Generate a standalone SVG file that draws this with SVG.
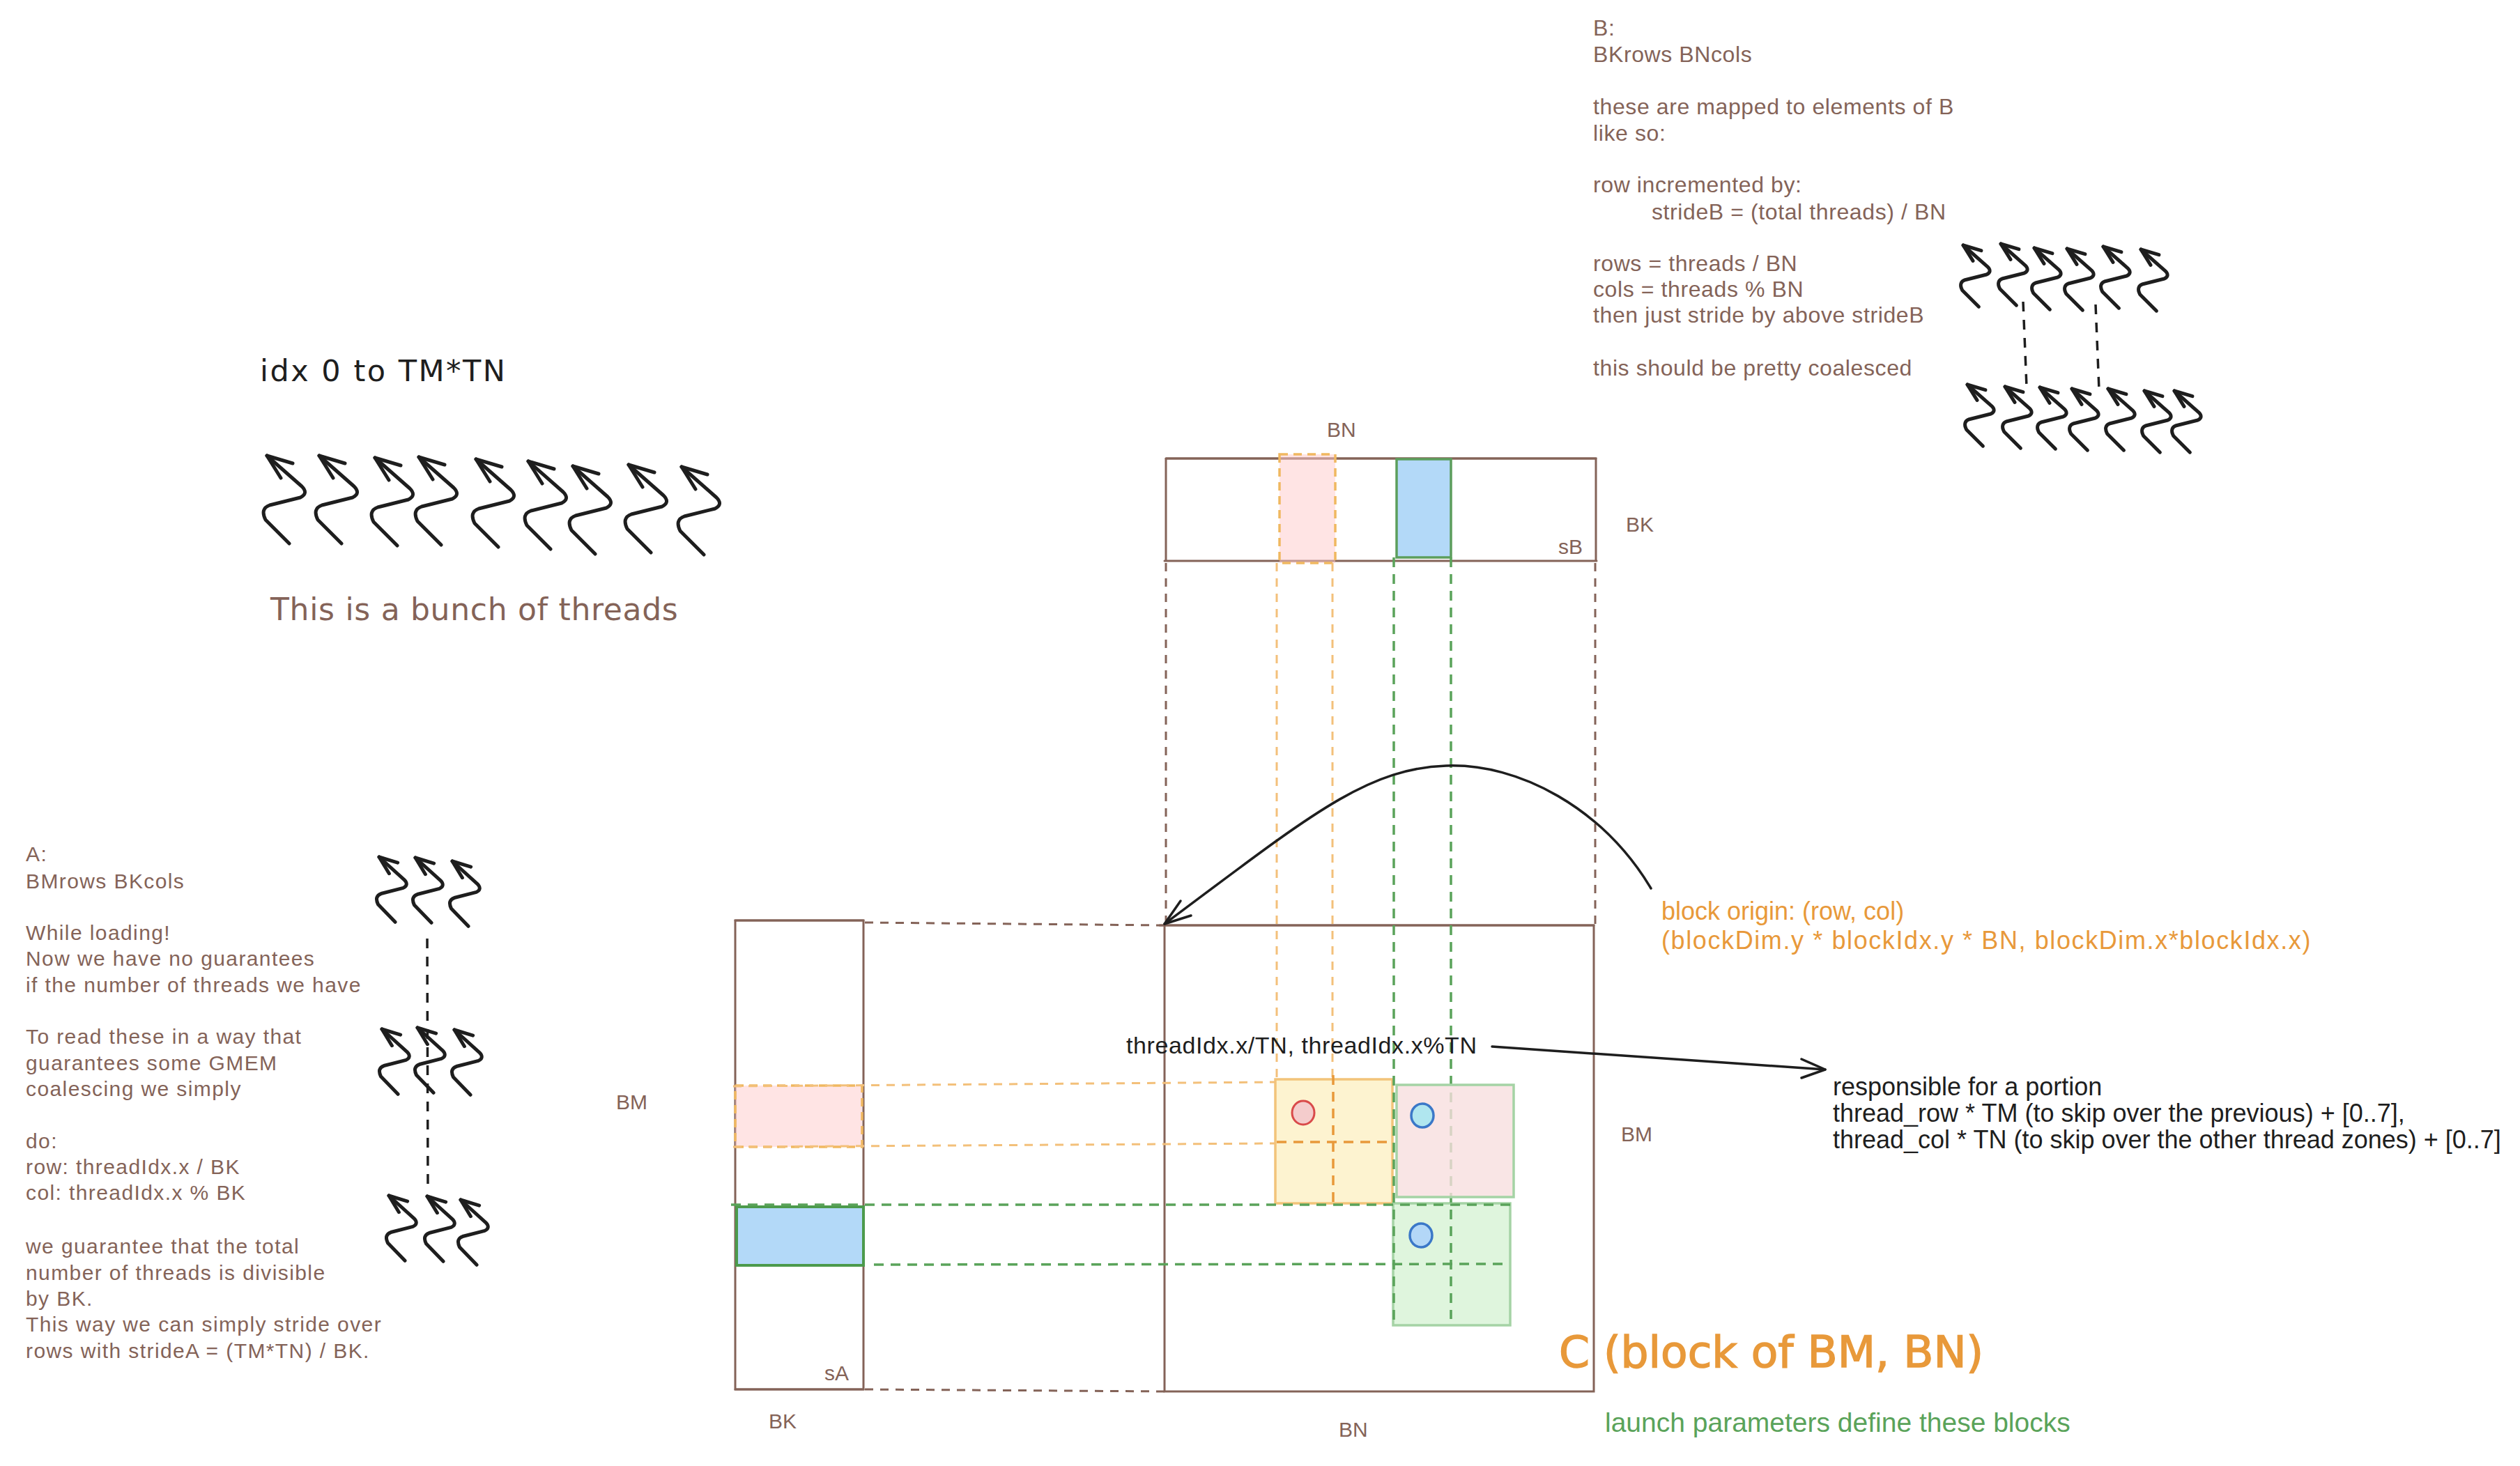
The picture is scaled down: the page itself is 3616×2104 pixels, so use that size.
<svg xmlns="http://www.w3.org/2000/svg" width="3616" height="2104" viewBox="0 0 3616 2104">
<defs>
<style>
text{font-family:"Liberation Sans",Arial,sans-serif}
.br{fill:#846358}
.bk{fill:#1e1e1e}
.or{fill:#e8993a}
.gr{fill:#5aa35a}
.b32{font-size:32px;letter-spacing:0.6px}
.lab{font-size:30px;fill:#846358}
.nt{font-family:"Noto Sans",sans-serif;font-size:30px;fill:#846358;letter-spacing:1.4px}
.dv{font-family:"DejaVu Sans",sans-serif}
.edge{fill:none;stroke:#846358;stroke-width:3;stroke-linecap:round}
.dbr{fill:none;stroke:#846358;stroke-width:3;stroke-dasharray:12 10}
.dor{fill:none;stroke:#f3c07a;stroke-width:3;stroke-dasharray:12 10}
.dor2{fill:none;stroke:#e8993a;stroke-width:3.5;stroke-dasharray:14 10}
.dgr{fill:none;stroke:#5aa35a;stroke-width:3.5;stroke-dasharray:14 10}
.dbk{fill:none;stroke:#1e1e1e;stroke-width:3.5;stroke-dasharray:14 12}
.ln{fill:none;stroke:#1e1e1e;stroke-width:3.5;stroke-linecap:round;stroke-linejoin:round}
</style>
<g id="thread">
<path d="M0 0 L50 44 Q60 54 48 60 L4 71 Q-10 76 -2 92 L32 126" fill="none" stroke="#1e1e1e" stroke-width="5" stroke-linecap="round" stroke-linejoin="round" vector-effect="non-scaling-stroke"/>
<path d="M37 11 L0 0 L20 32" fill="none" stroke="#1e1e1e" stroke-width="5" stroke-linecap="round" stroke-linejoin="round" vector-effect="non-scaling-stroke"/>
</g>
</defs>
<rect width="3616" height="2104" fill="#ffffff"/>

<!-- B explanation -->
<g id="b-notes" class="br b32">
<text x="2286" y="51">B:</text>
<text x="2286" y="89">BKrows BNcols</text>
<text x="2286" y="164">these are mapped to elements of B</text>
<text x="2286" y="202">like so:</text>
<text x="2286" y="276">row incremented by:</text>
<text x="2370" y="315">strideB = (total threads) / BN</text>
<text x="2286" y="389">rows = threads / BN</text>
<text x="2286" y="426">cols = threads % BN</text>
<text x="2286" y="463">then just stride by above strideB</text>
<text x="2286" y="539">this should be pretty coalesced</text>
</g>

<!-- top-left threads -->
<g id="threads-main">
<text class="bk dv" x="373" y="547" font-size="43" letter-spacing="2.5">idx 0 to TM*TN</text>
<use href="#thread" transform="translate(383,654)"/>
<use href="#thread" transform="translate(458,654)"/>
<use href="#thread" transform="translate(538,657)"/>
<use href="#thread" transform="translate(601,656)"/>
<use href="#thread" transform="translate(683,659)"/>
<use href="#thread" transform="translate(758,662)"/>
<use href="#thread" transform="translate(822,669)"/>
<use href="#thread" transform="translate(902,667)"/>
<use href="#thread" transform="translate(978,670)"/>
<text class="br dv" x="388" y="890" font-size="44" letter-spacing="0.7">This is a bunch of threads</text>
</g>

<!-- top-right threads -->
<g id="threads-b">
<use href="#thread" transform="translate(2817,352) scale(0.7)"/>
<use href="#thread" transform="translate(2871,350) scale(0.7)"/>
<use href="#thread" transform="translate(2919,356) scale(0.7)"/>
<use href="#thread" transform="translate(2966,357) scale(0.7)"/>
<use href="#thread" transform="translate(3018,354) scale(0.7)"/>
<use href="#thread" transform="translate(3072,358) scale(0.7)"/>
<use href="#thread" transform="translate(2823,552) scale(0.7)"/>
<use href="#thread" transform="translate(2877,555) scale(0.7)"/>
<use href="#thread" transform="translate(2927,556) scale(0.7)"/>
<use href="#thread" transform="translate(2973,558) scale(0.7)"/>
<use href="#thread" transform="translate(3025,558) scale(0.7)"/>
<use href="#thread" transform="translate(3077,561) scale(0.7)"/>
<use href="#thread" transform="translate(3120,561) scale(0.7)"/>
</g>

<!-- A explanation -->
<g id="a-notes" class="nt">
<text x="37" y="1236">A:</text>
<text x="37" y="1275">BMrows BKcols</text>
<text x="37" y="1349">While loading!</text>
<text x="37" y="1386">Now we have no guarantees</text>
<text x="37" y="1424">if the number of threads we have</text>
<text x="37" y="1498">To read these in a way that</text>
<text x="37" y="1536">guarantees some GMEM</text>
<text x="37" y="1573">coalescing we simply</text>
<text x="37" y="1648">do:</text>
<text x="37" y="1685">row: threadIdx.x / BK</text>
<text x="37" y="1722">col: threadIdx.x % BK</text>
<text x="37" y="1799">we guarantee that the total</text>
<text x="37" y="1837">number of threads is divisible</text>
<text x="37" y="1874">by BK.</text>
<text x="37" y="1911">This way we can simply stride over</text>
<text x="37" y="1949">rows with strideA = (TM*TN) / BK.</text>
</g>

<!-- left threads -->
<g id="threads-a">
<use href="#thread" transform="translate(544,1230) scale(0.72,0.74)"/>
<use href="#thread" transform="translate(596,1231) scale(0.72,0.74)"/>
<use href="#thread" transform="translate(649,1236) scale(0.72,0.74)"/>
<use href="#thread" transform="translate(548,1477) scale(0.72,0.74)"/>
<use href="#thread" transform="translate(599,1475) scale(0.72,0.74)"/>
<use href="#thread" transform="translate(652,1478) scale(0.72,0.74)"/>
<use href="#thread" transform="translate(558,1716) scale(0.72,0.74)"/>
<use href="#thread" transform="translate(613,1717) scale(0.72,0.74)"/>
<use href="#thread" transform="translate(661,1722) scale(0.72,0.74)"/>
</g>

<!-- sB -->
<g id="sB">
<path class="edge" d="M1673 658 L2290 658 L2290 804 M1673 658 L1673 804" />
<path class="edge" d="M1673 658 L2290 658" stroke-width="5"/>
<path class="edge" d="M1671 805 L2291 805" stroke-width="5"/>
<rect x="1836" y="652" width="80" height="156" fill="#ffc9c9" fill-opacity="0.5" stroke="#f0b860" stroke-width="3.5" stroke-dasharray="12 8"/>
<rect x="2004" y="659" width="78" height="141" fill="#b3d9f8" stroke="#5c9e5c" stroke-width="3.5"/>
<text class="lab" x="1904" y="627">BN</text>
<text class="lab" x="2333" y="763">BK</text>
<text class="lab" x="2236" y="795">sB</text>
</g>

<!-- sA -->
<g id="sA">
<rect x="1055" y="1321" width="184" height="673" fill="none" stroke="#846358" stroke-width="3"/>
<path class="edge" d="M1055 1321 L1239 1321 M1055 1994 L1239 1994" stroke-width="5"/>
<rect x="1055" y="1558" width="182" height="88" fill="#ffc9c9" fill-opacity="0.5" stroke="#f0b860" stroke-width="3.5" stroke-dasharray="12 8"/>
<rect x="1057" y="1732" width="182" height="84" fill="#b3d9f8" stroke="#4c9a4c" stroke-width="4"/>
<text class="lab" x="1183" y="1981">sA</text>
<text class="lab" x="1103" y="2050">BK</text>
<text class="lab" x="884" y="1592">BM</text>
</g>

<!-- C block -->
<g id="C">
<rect x="1671" y="1328" width="616" height="669" fill="none" stroke="#846358" stroke-width="3"/>
<path class="edge" d="M1664 1328 L2287 1328" stroke-width="6"/>
<rect x="1830" y="1549" width="168" height="178" fill="#fdf3d0" stroke="#f2c47a" stroke-width="3.5"/>
<rect x="1999" y="1727" width="168" height="175" fill="#dff5dd" stroke="#a5d3a5" stroke-width="3.5"/>
<text class="lab" x="2326" y="1638">BM</text>
<text class="lab" x="1921" y="2062">BN</text>
</g>

<!-- connectors / guides -->
<g id="connectors">
<path class="dbr" d="M1673 808 L1673 1326 M2289 808 L2289 1326"/>
<path class="dbr" d="M1241 1324 L1671 1328 M1241 1994 L1671 1997" stroke-width="4" stroke-dasharray="14 12"/>
<path class="dor" d="M1832 808 L1832 1549 M1912 808 L1912 1549"/>
<path class="dor" d="M1052 1559 L1830 1553 M1052 1646 L1830 1641"/>
<path class="dor2" d="M1913 1543 L1913 1727 M1832 1639 L1998 1639"/>
<path class="dgr" d="M2000 800 L2000 1900 M2082 800 L2082 1893"/>
<path class="dgr" d="M1049 1729 L2167 1729 M1254 1815 L2163 1814"/>
<path class="dbk" d="M613 1347 L614 1707"/>
<path class="dbk" d="M2903 433 L2908 555 M3007 437 L3012 559"/>
<path class="ln" d="M2369 1275 C2300 1160 2180 1095 2075 1099 C1960 1103 1880 1170 1671 1326"/>
<path class="ln" d="M1694 1293 L1671 1326 L1709 1314"/>
<path class="ln" d="M2141 1502 L2619 1535"/>
<path class="ln" d="M2585 1520 L2619 1535 L2585 1547"/>
</g>

<!-- pink thread tile and dots -->
<g id="tiles">
<rect x="2004" y="1557" width="168" height="161" fill="#f8dede" fill-opacity="0.8" stroke="#a5d3a5" stroke-width="3.5"/>
<ellipse cx="1870" cy="1597" rx="16" ry="17" fill="#f4cccc" stroke="#d94a4a" stroke-width="3"/>
<ellipse cx="2041" cy="1601" rx="16" ry="17" fill="#b0e6ef" stroke="#3b78c8" stroke-width="3.5"/>
<ellipse cx="2039" cy="1773" rx="16" ry="17" fill="#b3d7f7" stroke="#3b78c8" stroke-width="3.5"/>
</g>

<!-- annotations -->
<g id="thread-index-label">
<text class="bk" x="1616" y="1512" font-size="34" letter-spacing="0.6">threadIdx.x/TN, threadIdx.x%TN</text>
</g>
<g id="block-origin">
<text class="or" x="2384" y="1320" font-size="36">block origin: (row, col)</text>
<text class="or" x="2384" y="1362" font-size="36" letter-spacing="1.6">(blockDim.y * blockIdx.y * BN, blockDim.x*blockIdx.x)</text>
</g>
<g id="responsible">
<text class="bk" x="2630" y="1572" font-size="36">responsible for a portion</text>
<text class="bk" x="2630" y="1610" font-size="36">thread_row * TM (to skip over the previous) + [0..7],</text>
<text class="bk" x="2630" y="1648" font-size="36">thread_col * TN (to skip over the other thread zones) + [0..7]</text>
</g>
<g id="c-title">
<text class="or dv" x="2237" y="1962" font-size="63" stroke="#e8993a" stroke-width="1.5">C (block of BM, BN)</text>
<text class="gr" x="2303" y="2055" font-size="39">launch parameters define these blocks</text>
</g>
</svg>
